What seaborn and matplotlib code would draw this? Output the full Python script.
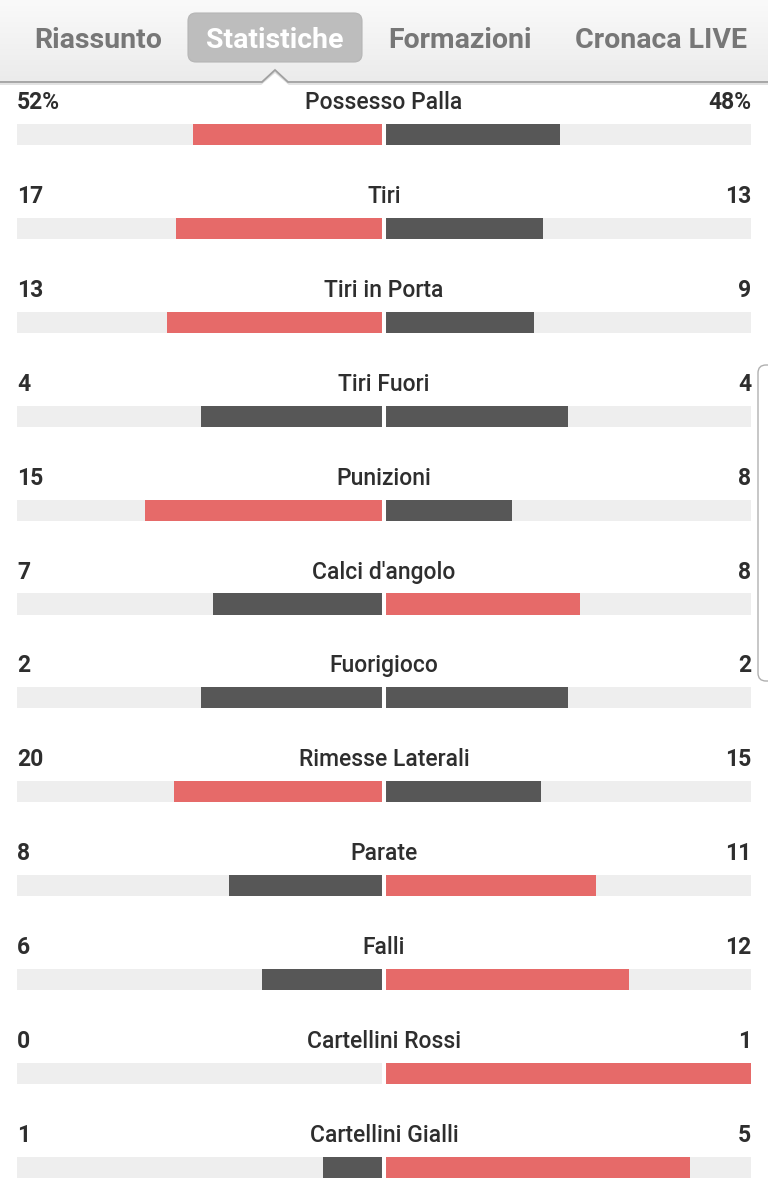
import numpy as np
import pandas as pd
import matplotlib
matplotlib.use("Agg")
import matplotlib.pyplot as plt
from matplotlib.patches import FancyBboxPatch, Polygon
import seaborn as sns

# ---------------- data ----------------
categories = ["Possesso Palla", "Tiri", "Tiri in Porta", "Tiri Fuori", "Punizioni",
              "Calci d'angolo", "Fuorigioco", "Rimesse Laterali", "Parate", "Falli",
              "Cartellini Rossi", "Cartellini Gialli"]
home = [52, 17, 13, 4, 15, 7, 2, 20, 8, 6, 0, 1]
away = [48, 13, 9, 4, 8, 8, 2, 15, 11, 12, 1, 5]
home_text = ["52%", "17", "13", "4", "15", "7", "2", "20", "8", "6", "0", "1"]
away_text = ["48%", "13", "9", "4", "8", "8", "2", "15", "11", "12", "1", "5"]
tabs = ["Riassunto", "Statistiche", "Formazioni", "Cronaca LIVE"]
active_tab = "Statistiche"

RED = "#e66a69"
DARK = "#575757"
BG = "#eeeeee"
TXT = "#2e2e2e"

sns.set_theme(style="white")
plt.rcParams["font.family"] = ["Roboto", "DejaVu Sans"]

W, H = 768, 1198
fig = plt.figure(figsize=(W / 100, H / 100), dpi=100)
fig.patch.set_facecolor("white")

# ---------------- stats axes ----------------
ax = fig.add_axes([0, 0, 1, 1])
tot = np.array(home, float) + np.array(away, float)
lf = np.array(home) / tot
rf = np.array(away) / tot
lcol = ["red" if h > a else "dark" for h, a in zip(home, away)]
rcol = ["red" if a > h else "dark" for h, a in zip(home, away)]
df = pd.DataFrame({"cat": categories, "left": -lf, "right": rf,
                   "lc": lcol, "rc": rcol,
                   "bgl": [-1.0] * len(categories), "bgr": [1.0] * len(categories)})
pal = {"red": RED, "dark": DARK}
bw = 0.224
sns.barplot(data=df, x="bgl", y="cat", orient="h", color=BG, width=bw, ax=ax,
            saturation=1, linewidth=0)
sns.barplot(data=df, x="bgr", y="cat", orient="h", color=BG, width=bw, ax=ax,
            saturation=1, linewidth=0)
sns.barplot(data=df, x="left", y="cat", orient="h", hue="lc", palette=pal, dodge=False,
            width=bw, ax=ax, saturation=1, linewidth=0, legend=False)
sns.barplot(data=df, x="right", y="cat", orient="h", hue="rc", palette=pal, dodge=False,
            width=bw, ax=ax, saturation=1, linewidth=0, legend=False)

half = 367.0
ax.set_xlim(-384 / half, 384 / half)
pitch = 93.9
y0 = 134.5
ax.set_ylim((H - y0) / pitch, -y0 / pitch)
ax.axvline(0, color="white", lw=2.9, zorder=5)
ax.axis("off")

xl = -367 / half
xr = 367 / half
for i, c in enumerate(categories):
    yt = i - 32.0 / pitch
    ax.text(0, yt, c, ha="center", va="center", fontsize=16.5, color=TXT,
            fontweight="medium", zorder=10)
    ax.text(xl, yt, home_text[i], ha="left", va="center", fontsize=16.5, color=TXT,
            fontweight="bold", zorder=10)
    ax.text(xr, yt, away_text[i], ha="right", va="center", fontsize=16.5, color=TXT,
            fontweight="bold", zorder=10)

# ---------------- header overlay (pixel coords) ----------------
hx = fig.add_axes([0, 0, 1, 1], zorder=10)
hx.set_xlim(0, W)
hx.set_ylim(H, 0)
hx.axis("off")
hx.patch.set_alpha(0)

grad = np.linspace(0, 1, 100).reshape(-1, 1)
hx.imshow(grad, extent=[0, W, 82, 0], cmap=matplotlib.colors.LinearSegmentedColormap.from_list(
    "g", ["#fafafa", "#ebebeb"]), aspect="auto", zorder=1)
# notch
nx, nw, nh = 275, 13, 12
hx.add_patch(Polygon([[nx - nw, 82], [nx, 82 - nh], [nx + nw, 82]], closed=True,
                     facecolor="white", edgecolor="none", zorder=2))
hx.plot([0, nx - nw, nx, nx + nw, W], [82, 82, 82 - nh, 82, 82], color="#a0a0a0",
        lw=1.3, zorder=3, solid_joinstyle="miter")
hx.plot([0, nx - nw - 1, nx, nx + nw + 1, W], [84, 84, 84 - nh, 84, 84], color="#dddddd",
        lw=1.2, zorder=2)

hx.add_patch(FancyBboxPatch((188 + 8, 13 + 8), 174 - 16, 49 - 16,
                            boxstyle="round,pad=8", facecolor="#bdbdbd",
                            edgecolor="#b5b5b5", lw=0.8, zorder=3))
tab_x = [98, 275, 460, 661]
for t, x in zip(tabs, tab_x):
    hx.text(x, 41, t, ha="center", va="center", fontsize=20.5, fontweight="bold",
            color="white" if t == active_tab else "#777777", zorder=4)

# scroll handle on the right edge
hx.add_patch(FancyBboxPatch((766, 373), 20, 300, boxstyle="round,pad=8",
                            facecolor="white", edgecolor="#b0b0b0", lw=1.0, zorder=4))

fig.savefig("out.png", dpi=100, facecolor="white")
